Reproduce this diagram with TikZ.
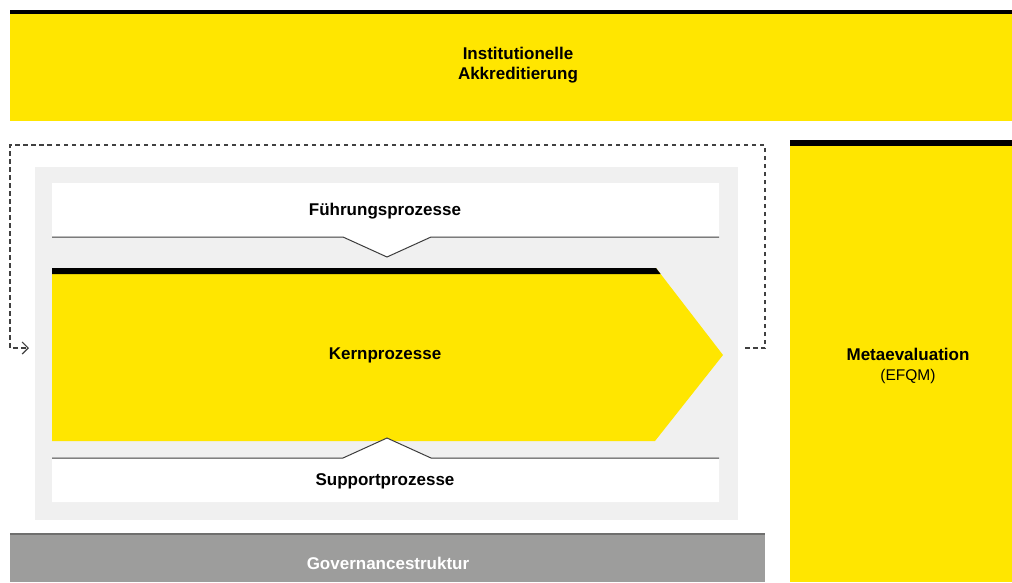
\documentclass[tikz,border=0pt]{standalone}
\usepackage{fontspec}
\setmainfont{Liberation Sans}
\usetikzlibrary{arrows.meta}
\definecolor{qmyellow}{HTML}{FFE600}
\definecolor{panelgrey}{HTML}{F0F0F0}
\definecolor{govgrey}{HTML}{9D9D9C}
\definecolor{govline}{HTML}{6F6F6E}
\definecolor{notchgrey}{HTML}{3C3C3C}
\tikzset{
  boldlbl/.style={font=\fontsize{17}{20.5}\selectfont\bfseries, align=center},
  notch/.style={draw=notchgrey, line width=1pt},
  feedback/.style={draw=black!75, line width=1.2pt, dash pattern=on 4.5pt off 3.5pt}
}
\begin{document}
\begin{tikzpicture}[x=1pt,y=-1pt]
  \useasboundingbox (0,0) rectangle (1012,582);
  % Akkreditierung
  \fill[qmyellow] (10,14) rectangle (1012,121);
  \fill[black] (10,10) rectangle (1012,14);
  \node[boldlbl] (akkr) at (518,65) {Institutionelle\\Akkreditierung};
  % Metaevaluation
  \fill[qmyellow] (790,146) rectangle (1012,582);
  \fill[black] (790,140) rectangle (1012,146);
  \node[boldlbl] (meta) at (908,366)
    {Metaevaluation\\{\mdseries\fontsize{15.5}{20.5}\selectfont (EFQM)}};
  % Prozesse
  \fill[panelgrey] (35,167) rectangle (738,520);
  \fill[white] (52,183) -- (719,183) -- (719,237) -- (431,237) -- (387,257)
    -- (343,237) -- (52,237) -- cycle;
  \draw[notch] (52,237) -- (343,237) -- (387,257) -- (431,237) -- (719,237);
  \node[boldlbl] (fuehrung) at (385,211) {Führungsprozesse};
  \fill[qmyellow] (52,268) -- (656,268) -- (723,355) -- (655,441)
    -- (52,441) -- cycle;
  \fill[black] (52,268) -- (656,268) -- (660.6,274) -- (52,274) -- cycle;
  \node[boldlbl] (kern) at (385,355) {Kernprozesse};
  \fill[white] (52,458) -- (343,458) -- (387,438) -- (431,458) -- (719,458)
    -- (719,502) -- (52,502) -- cycle;
  \draw[notch] (52,458) -- (343,458) -- (387,438) -- (431,458) -- (719,458);
  \node[boldlbl] (support) at (385,481) {Supportprozesse};
  % Governance
  \fill[govgrey] (10,533) rectangle (765,582);
  \draw[govline, line width=2pt] (10,534) -- (765,534);
  \node[boldlbl, text=white] (gov) at (388,563) {Governancestruktur};
  % Rueckkopplung
  \coordinate (fbstart) at (745,348);
  \coordinate (fbend) at (29,348);
  \draw[feedback, -{Straight Barb[length=6pt,width=12pt,line width=1.2pt]}]
    (fbstart) -- ++(20,0) |- (10,145) |- (fbend);
\end{tikzpicture}
\end{document}
